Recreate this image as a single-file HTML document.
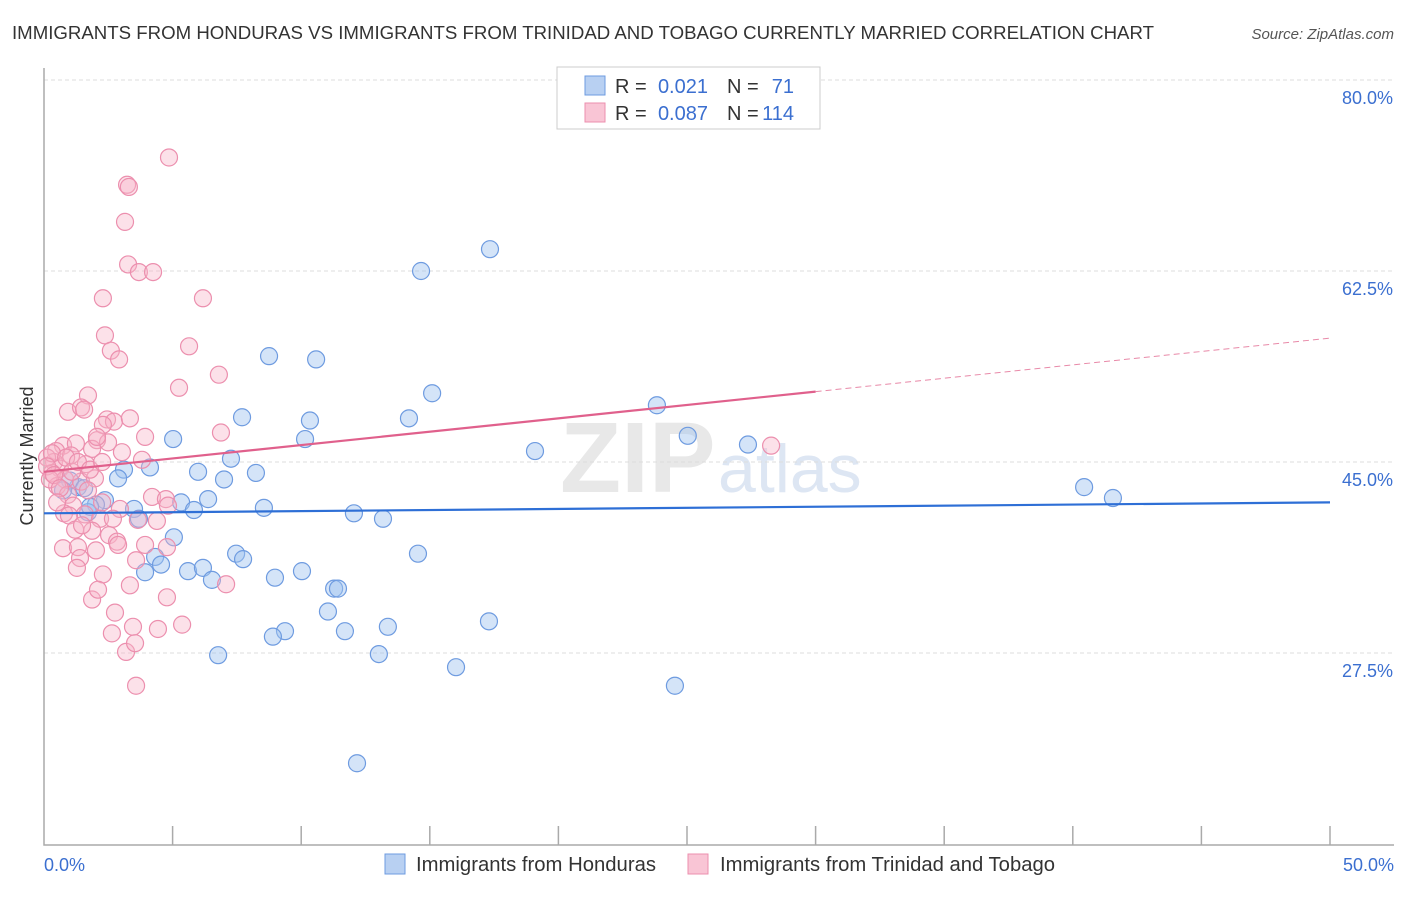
<!DOCTYPE html>
<html><head><meta charset="utf-8"><style>
body{margin:0;background:#fff;font-family:"Liberation Sans",sans-serif}
svg text{font-family:"Liberation Sans",sans-serif}
</style></head><body>
<svg id="c" width="1406" height="892">
<text x="12" y="39" font-size="18" fill="#333" textLength="1142" lengthAdjust="spacingAndGlyphs">IMMIGRANTS FROM HONDURAS VS IMMIGRANTS FROM TRINIDAD AND TOBAGO CURRENTLY MARRIED CORRELATION CHART</text>
<text x="1394" y="39" font-size="15" fill="#555" font-style="italic" text-anchor="end">Source: ZipAtlas.com</text>
<text x="560" y="492" font-size="100" fill="#e8e8e8" font-family="Liberation Serif" font-weight="bold">ZIP</text>
<text x="718" y="492" font-size="68" fill="#dde6f3">atlas</text>
<text transform="translate(33,456) rotate(-90)" font-size="18" fill="#333" text-anchor="middle">Currently Married</text>
<g id="grid"></g><g id="axes"></g><g id="pts"></g><g id="trend"></g>
<g>
<rect x="557" y="67" width="263" height="62" fill="#fff" stroke="#ccc"/>
<rect x="585" y="76" width="20" height="19" fill="#b8d0f2" stroke="#6e9be0"/>
<rect x="585" y="103" width="20" height="19" fill="#f9c5d5" stroke="#ec8fae"/>
<text x="615" y="93" font-size="20" fill="#333">R =</text>
<text x="708" y="93" font-size="20" fill="#3b6fd0" text-anchor="end">0.021</text>
<text x="727" y="93" font-size="20" fill="#333">N =</text>
<text x="794" y="93" font-size="20" fill="#3b6fd0" text-anchor="end">71</text>
<text x="615" y="120" font-size="20" fill="#333">R =</text>
<text x="708" y="120" font-size="20" fill="#3b6fd0" text-anchor="end">0.087</text>
<text x="727" y="120" font-size="20" fill="#333">N =</text>
<text x="794" y="120" font-size="20" fill="#3b6fd0" text-anchor="end">114</text>
</g>
<g>
<rect x="385" y="854" width="20" height="20" fill="#b8d0f2" stroke="#6e9be0"/>
<text x="416" y="871" font-size="20" fill="#333" textLength="240" lengthAdjust="spacingAndGlyphs">Immigrants from Honduras</text>
<rect x="688" y="854" width="20" height="20" fill="#f9c5d5" stroke="#ec8fae"/>
<text x="720" y="871" font-size="20" fill="#333" textLength="335" lengthAdjust="spacingAndGlyphs">Immigrants from Trinidad and Tobago</text>
</g>
</svg>
<script>
const yTicks=[80,62.5,45,27.5];
const yTickLabels=["80.0%","62.5%","45.0%","27.5%"];
const xTickLabels=["0.0%","50.0%"];
const hondX=[8.75,10.58,14.66,17.34,15.09,14.19,10.34,7.70,10.15,5.02,19.09,23.83,25.03,27.37,40.44,41.56,4.12,3.11,2.88,5.99,7.27,8.24,7.00,6.38,5.33,5.83,3.50,3.69,2.37,2.02,1.71,1.32,1.01,0.74,8.55,12.05,13.18,5.05,4.32,4.55,3.93,5.60,6.18,6.53,7.47,7.74,8.98,10.03,11.28,11.43,11.04,14.54,11.70,13.37,9.37,8.90,13.02,6.77,16.02,17.30,24.53,12.17,1.79,1.56];
const hondY=[54.7,54.4,62.5,64.5,51.3,49.0,48.8,49.1,47.1,47.1,46.0,50.2,47.4,46.6,42.7,41.7,44.5,44.3,43.5,44.1,45.3,44.0,43.4,41.6,41.3,40.6,40.7,39.8,41.5,41.1,40.4,42.7,43.3,42.4,40.8,40.3,39.8,38.1,36.3,35.6,34.9,35.0,35.3,34.2,36.6,36.1,34.4,35.0,33.4,33.4,31.3,36.6,29.5,29.9,29.5,29.0,27.4,27.3,26.2,30.4,24.5,17.4,40.9,42.6];
const trinX=[4.86,3.23,3.30,3.15,3.27,3.69,4.24,2.29,6.18,2.37,2.60,2.92,5.64,6.80,5.25,1.71,0.93,1.44,1.56,2.45,2.72,3.34,3.93,6.88,0.74,2.06,1.24,1.87,0.47,1.05,1.63,0.39,0.62,0.31,0.12,3.81,2.49,2.29,2.06,3.03,28.27,0.82,1.44,1.98,0.51,0.93,1.71,2.26,4.20,4.74,4.82,1.13,0.78,1.59,2.18,2.95,3.65,4.39,2.68,1.87,2.53,2.84,0.74,1.32,2.02,3.93,4.78,2.88,3.58,1.40,1.28,2.29,1.87,2.10,3.34,2.76,4.78,2.64,3.46,4.43,5.37,7.08,3.19,3.54,3.58,0.31,0.12,0.23,0.39,0.62,0.86,1.09,1.32,1.79,2.26,0.51,0.97,1.21,1.48];
const trinY=[72.9,70.4,70.2,67.0,63.1,62.4,62.4,60.0,60.0,56.6,55.2,54.4,55.6,53.0,51.8,51.1,49.6,50.0,49.8,48.9,48.7,49.0,47.3,47.7,46.5,47.0,46.7,46.2,46.0,45.6,44.8,45.0,44.4,44.0,45.4,45.2,46.8,48.4,47.3,45.9,46.5,43.4,43.2,43.5,42.8,42.0,42.4,41.3,41.8,41.6,41.0,41.0,40.3,40.2,39.8,40.7,39.7,39.6,39.8,38.7,38.3,37.7,37.1,37.2,36.9,37.4,37.2,37.4,36.0,36.2,35.3,34.7,32.4,33.3,33.7,31.2,32.6,29.3,29.9,29.7,30.1,33.8,27.6,28.4,24.5,45.8,44.6,43.4,43.8,42.6,45.4,44.1,45.0,44.3,45.0,41.3,40.1,38.8,39.2];
const hondTrend=[40.3,41.3];
const trinTrend=[44.1,56.35];
const trinSolidEnd=30;
const NS="http://www.w3.org/2000/svg";
const X=v=>44+v*(1286/50);
const Y=v=>80+(80-v)*(191/17.5);
function mk(tag,attrs,parent){const e=document.createElementNS(NS,tag);for(const k in attrs)e.setAttribute(k,attrs[k]);document.getElementById(parent).appendChild(e);return e;}
yTicks.forEach((t,i)=>{
 const g=mk('line',{x1:44,x2:1394,y1:Y(t),y2:Y(t),stroke:'#ddd','stroke-dasharray':'4,3'},'grid');
 
 
 const l=mk('text',{x:1393,y:Y(t)+24,'font-size':18,fill:'#3b6fd0','text-anchor':'end'},'grid');
 l.textContent=yTickLabels[i];
 
 
});
const ax=mk('path',{d:`M44,68V845H1394`,fill:'none',stroke:'#aaa','stroke-width':1.5},'axes');


for(let i=1;i<=10;i++){
 const t=mk('line',{x1:X(i*5),x2:X(i*5),y1:826,y2:845,stroke:'#aaa','stroke-width':1.5},'axes');
 
 
}
[[0,'start',44],[1,'end',1394]].forEach(([i,a,x])=>{
 const l=mk('text',{x:x,y:871,'font-size':18,fill:'#3b6fd0','text-anchor':a},'axes');
 l.textContent=xTickLabels[i];
 
 
});
hondX.forEach((v,i)=>{
 const c=mk('circle',{cx:X(v),cy:Y(hondY[i]),r:8.5,fill:'rgba(160,195,240,0.45)',stroke:'#6e9be0','stroke-width':1.2},'pts');
 
 
});
trinX.forEach((v,i)=>{
 const c=mk('circle',{cx:X(v),cy:Y(trinY[i]),r:8.5,fill:'rgba(248,180,200,0.4)',stroke:'#ec8fae','stroke-width':1.2},'pts');
 
 
});
const hl=mk('line',{x1:X(0),y1:Y(hondTrend[0]),x2:X(50),y2:Y(hondTrend[1]),stroke:'#2e6fd6','stroke-width':2.2},'trend');


const tm=trinTrend[0]+(trinTrend[1]-trinTrend[0])*trinSolidEnd/50;
const tl=mk('line',{x1:X(0),y1:Y(trinTrend[0]),x2:X(trinSolidEnd),y2:Y(tm),stroke:'#e0608c','stroke-width':2.2},'trend');


const td=mk('line',{x1:X(trinSolidEnd),y1:Y(tm),x2:X(50),y2:Y(trinTrend[1]),stroke:'#e889a8','stroke-width':1,'stroke-dasharray':'6,4'},'trend');


</script>
</body></html>
